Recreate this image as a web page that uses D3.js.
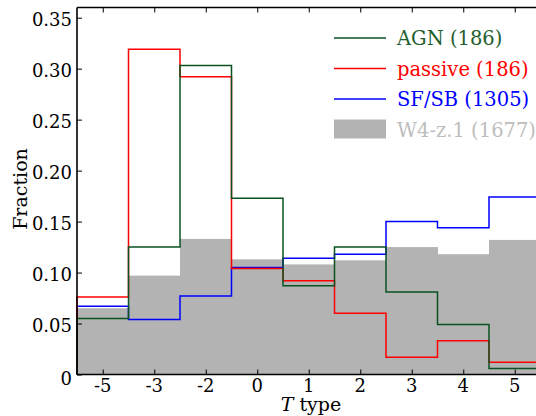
<!DOCTYPE html>
<html>
<head>
<meta charset="utf-8">
<script src="https://cdn.jsdelivr.net/npm/d3@7"></script>
<style>
  body { margin: 0; background: #fff; }
  svg text { font-family: "DejaVu Serif", "Liberation Serif", serif; }
</style>
</head>
<body>
<div id="chart"></div>
<script>
// T type bins (bin labels as printed on the axis)
var tTypes = ['-5', '-3', '-2', '0', '1', '2', '3', '4', '5'];
var yTicks = [0, 0.05, 0.10, 0.15, 0.20, 0.25, 0.30, 0.35];

// fractions per bin
var w4 =      [0.065, 0.097, 0.133, 0.113, 0.108, 0.112, 0.125, 0.118, 0.132];
var sfsb =    [0.067, 0.054, 0.077, 0.105, 0.114, 0.118, 0.150, 0.144, 0.174];
var passive = [0.076, 0.319, 0.292, 0.104, 0.092, 0.060, 0.017, 0.033, 0.012];
var agn =     [0.055, 0.125, 0.303, 0.173, 0.087, 0.125, 0.081, 0.049, 0.006];

var legendLabels = ['AGN (186)', 'passive (186)', 'SF/SB (1305)', 'W4-z.1 (1677)'];

var svgWidth = 536, svgHeight = 416;
// note: "top" is taken by window.top, so plot edges get their own names
var plotLeft = 77, plotTop = 7.5, plotBottom = 374.5;
var binPx = 51.5;
var plotRight = plotLeft + tTypes.length * binPx;

var svg = d3.select('#chart').append('svg')
  .attr('width', svgWidth).attr('height', svgHeight);

var x = d3.scaleLinear().domain([-0.5, tTypes.length - 0.5]).range([plotLeft, plotRight]);
var y = d3.scaleLinear().domain([0, 0.36]).range([plotBottom, plotTop]);

// grey filled histogram
svg.append('g').selectAll('rect')
  .data(w4)
  .enter()
  .append('rect')
  .attr('x', function(d, i) { return x(i - 0.5); })
  .attr('width', x(1) - x(0) + 0.5)
  .attr('y', function(d) { return y(d); })
  .attr('height', function(d) { return y(0) - y(d); })
  .attr('fill', '#b3b3b3');

function stepPoints(values) {
  var pts = [[x(-0.5), y(0)]];
  values.forEach(function(v, i) {
    pts.push([x(i - 0.5), y(v)]);
    pts.push([x(i + 0.5), y(v)]);
  });
  pts.push([x(values.length - 0.5), y(0)]);
  return pts;
}

var line = d3.line();
var series = [
  { values: sfsb, color: '#0000ff' },
  { values: passive, color: '#ff0000' },
  { values: agn, color: '#0a5220' }
];

svg.append('g').selectAll('path')
  .data(series)
  .enter()
  .append('path')
  .attr('d', function(d) { return line(stepPoints(d.values)); })
  .attr('fill', 'none')
  .attr('stroke', function(d) { return d.color; })
  .attr('stroke-width', 1.5);

// frame
var frame = svg.append('g').attr('stroke', '#000').attr('stroke-width', 1.6).attr('fill', 'none');
frame.append('line').attr('x1', plotLeft).attr('x2', plotLeft).attr('y1', plotTop).attr('y2', plotBottom);
frame.append('line').attr('x1', plotLeft).attr('x2', plotRight).attr('y1', plotBottom).attr('y2', plotBottom);
frame.append('line').attr('x1', plotLeft).attr('x2', plotRight).attr('y1', plotTop).attr('y2', plotTop);
frame.append('line').attr('x1', plotRight).attr('x2', plotRight).attr('y1', plotTop).attr('y2', plotBottom);

// axes with inward ticks
var xAxis = d3.axisTop(x)
  .tickValues(d3.range(tTypes.length))
  .tickFormat('')
  .tickSize(5)
  .tickSizeOuter(0);
var xg = svg.append('g').attr('transform', 'translate(0,' + plotBottom + ')').call(xAxis);
xg.select('.domain').remove();
xg.selectAll('line').attr('stroke', '#000').attr('stroke-width', 1);

var xTop = d3.axisBottom(x)
  .tickValues(d3.range(tTypes.length))
  .tickFormat('')
  .tickSize(5)
  .tickSizeOuter(0);
var xt = svg.append('g').attr('transform', 'translate(0,' + plotTop + ')').call(xTop);
xt.select('.domain').remove();
xt.selectAll('line').attr('stroke', '#000').attr('stroke-width', 1);

svg.append('g').selectAll('text')
  .data(tTypes)
  .enter()
  .append('text')
  .attr('x', function(d, i) { return x(i); })
  .attr('y', 392)
  .attr('text-anchor', 'middle')
  .attr('font-size', 18)
  .text(function(d) { return d; });

var yAxis = d3.axisRight(y)
  .tickValues(yTicks)
  .tickFormat('')
  .tickSize(5)
  .tickSizeOuter(0);
var yg = svg.append('g').attr('transform', 'translate(' + plotLeft + ',0)').call(yAxis);
yg.select('.domain').remove();
yg.selectAll('line').attr('stroke', '#000').attr('stroke-width', 1);

svg.append('g').selectAll('text')
  .data(yTicks)
  .enter()
  .append('text')
  .attr('x', plotLeft - 5)
  .attr('y', function(d) { return y(d) + (d === 0 ? 10.5 : 8.5); })
  .attr('text-anchor', 'end')
  .attr('font-size', 18)
  .text(function(d) { return d === 0 ? '0' : d.toFixed(2); });

// axis titles
svg.append('text')
  .attr('x', 311).attr('y', 411)
  .attr('text-anchor', 'middle')
  .attr('font-size', 19)
  .html('<tspan font-style="italic">T</tspan> type');

svg.append('text')
  .attr('transform', 'translate(27,' + 189 + ') rotate(-90)')
  .attr('text-anchor', 'middle')
  .attr('font-size', 19)
  .text('Fraction');

// legend
var legColors = ['#0a5220', '#ff0000', '#0000ff'];
var textColors = ['#1f5e2e', '#ff0000', '#0000ff', '#bdbdbd'];
var leg = svg.append('g');
legendLabels.forEach(function(lab, i) {
  var ly = 38 + i * 30.5;
  if (i < 3) {
    leg.append('line')
      .attr('x1', 334).attr('x2', 386)
      .attr('y1', ly).attr('y2', ly)
      .attr('stroke', legColors[i]).attr('stroke-width', 1.5);
  } else {
    leg.append('rect')
      .attr('x', 334).attr('y', ly - 10)
      .attr('width', 52).attr('height', 19)
      .attr('fill', '#b3b3b3');
  }
  leg.append('text')
    .attr('x', 397).attr('y', ly + 7)
    .attr('font-size', 19.5)
    .attr('fill', textColors[i])
    .text(lab);
});
</script>
</body>
</html>
